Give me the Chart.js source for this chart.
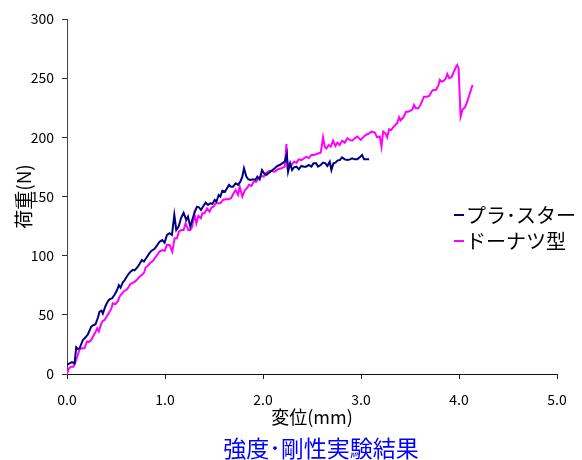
<!DOCTYPE html>
<html>
<head>
<meta charset="utf-8">
<script src="https://cdn.jsdelivr.net/npm/chart.js@4/dist/chart.umd.min.js"></script>
<style>
  html, body { margin: 0; padding: 0; background: #fff; }
  #wrap { width: 582px; height: 460px; }
</style>
</head>
<body>
<div id="wrap"><canvas id="chart" width="582" height="460"></canvas></div>
<script>
// Load-displacement curves (strength / stiffness test)
const seriesNames = ['プラ･スター', 'ドーナツ型'];
const seriesColors = ['#000080', '#ff00ff'];
const xTicks = [0, 1, 2, 3, 4, 5];
const yTicks = [0, 50, 100, 150, 200, 250, 300];

// プラ･スター
const plaX = [0, 0.026, 0.051, 0.077, 0.094, 0.11, 0.128, 0.162, 0.189, 0.213, 0.247, 0.274, 0.291, 0.315, 0.332, 0.352, 0.366, 0.393, 0.417, 0.434,
  0.461, 0.485, 0.509, 0.529, 0.546, 0.57, 0.587, 0.604, 0.628, 0.648, 0.672, 0.689, 0.717, 0.74, 0.764, 0.785, 0.809, 0.836, 0.86, 0.894,
  0.945, 0.972, 0.996, 1.02, 1.047, 1.071, 1.095, 1.115, 1.139, 1.163, 1.19, 1.217, 1.234, 1.258, 1.278, 1.299, 1.326, 1.347, 1.367, 1.387,
  1.415, 1.439, 1.462, 1.483, 1.507, 1.524, 1.548, 1.565, 1.585, 1.612, 1.633, 1.653, 1.674, 1.694, 1.721, 1.745, 1.769, 1.789, 1.806, 1.83,
  1.85, 1.874, 1.898, 1.922, 1.942, 1.966, 1.99, 2.01, 2.034, 2.055, 2.12, 2.147, 2.171, 2.195, 2.222, 2.243, 2.256, 2.277, 2.297, 2.317,
  2.341, 2.365, 2.392, 2.419, 2.439, 2.467, 2.494, 2.515, 2.542, 2.562, 2.589, 2.613, 2.637, 2.657, 2.681, 2.698, 2.718, 2.739, 2.759, 2.783,
  2.807, 2.834, 2.861, 2.889, 2.909, 2.936, 2.963, 2.987, 3.011, 3.032, 3.056, 3.083];
const plaY = [7.6, 9.0, 10.1, 9.0, 22.5, 21.1, 21.7, 28.7, 31.0, 33.5, 40.0, 41.4, 42.0, 47.5, 52.7, 53.5, 51.0, 57.5, 61.5, 63.0,
  64.0, 67.0, 70.5, 75.0, 73.0, 77.5, 79.0, 81.5, 84.5, 86.5, 88.0, 87.5, 90.0, 93.0, 96.3, 95.0, 98.0, 101.5, 104.0, 105.8,
  111.8, 113.2, 111.0, 117.5, 118.9, 117.5, 134.4, 121.7, 124.5, 131.6, 136.3, 130.2, 133.0, 124.5, 130.2, 135.8, 141.4, 140.9, 138.6, 141.4,
  144.8, 142.9, 144.3, 143.7, 147.1, 145.6, 151.3, 149.9, 154.9, 154.0, 157.0, 159.8, 158.3, 158.3, 161.2, 159.8, 162.5, 166.8, 173.8, 166.8,
  164.5, 164.0, 164.5, 164.0, 166.8, 164.5, 172.4, 169.6, 168.2, 169.6, 173.8, 175.8, 176.6, 178.0, 179.4, 186.0, 171.0, 178.0, 172.4, 174.7,
  175.2, 173.0, 175.8, 175.2, 175.2, 176.6, 175.2, 178.0, 178.0, 175.2, 176.6, 178.6, 178.0, 175.8, 179.4, 172.4, 178.0, 178.6, 180.3, 180.8,
  183.1, 181.4, 180.8, 181.4, 182.3, 181.4, 181.4, 183.1, 185.1, 181.4, 181.4, 181.4];

// ドーナツ型
const donutX = [0, 0.019, 0.043, 0.066, 0.087, 0.11, 0.128, 0.148, 0.179, 0.203, 0.223, 0.247, 0.264, 0.291, 0.308, 0.325, 0.349, 0.366, 0.383, 0.4,
  0.427, 0.451, 0.468, 0.495, 0.519, 0.536, 0.557, 0.58, 0.604, 0.625, 0.645, 0.672, 0.7, 0.717, 0.74, 0.768, 0.788, 0.802, 0.826, 0.85,
  0.877, 0.894, 0.911, 0.931, 0.945, 0.972, 0.996, 1.02, 1.047, 1.074, 1.098, 1.122, 1.142, 1.166, 1.19, 1.21, 1.238, 1.258, 1.278, 1.299,
  1.32, 1.34, 1.367, 1.381, 1.404, 1.428, 1.455, 1.476, 1.496, 1.517, 1.541, 1.565, 1.592, 1.619, 1.646, 1.674, 1.7, 1.721, 1.745, 1.762,
  1.789, 1.816, 1.837, 1.857, 1.881, 1.905, 1.932, 1.953, 1.98, 2.007, 2.034, 2.068, 2.12, 2.154, 2.188, 2.222, 2.239, 2.249, 2.269, 2.29,
  2.317, 2.341, 2.365, 2.392, 2.419, 2.443, 2.467, 2.494, 2.521, 2.545, 2.569, 2.589, 2.613, 2.63, 2.647, 2.671, 2.691, 2.715, 2.739, 2.759,
  2.783, 2.807, 2.834, 2.861, 2.885, 2.909, 2.936, 2.963, 2.998, 3.022, 3.046, 3.073, 3.107, 3.141, 3.165, 3.192, 3.209, 3.226, 3.25, 3.267,
  3.287, 3.308, 3.328, 3.349, 3.369, 3.389, 3.403, 3.424, 3.437, 3.458, 3.482, 3.506, 3.526, 3.54, 3.56, 3.584, 3.601, 3.621, 3.642, 3.669,
  3.696, 3.72, 3.737, 3.764, 3.788, 3.805, 3.822, 3.846, 3.866, 3.88, 3.9, 3.924, 3.948, 3.968, 3.982, 3.996, 4.016, 4.037, 4.061, 4.084,
  4.111, 4.138];
const donutY = [0, 4.8, 6.2, 6.2, 10.4, 16.1, 20.8, 21.7, 21.7, 27.5, 27.0, 28.7, 31.5, 35.5, 38.6, 36.0, 42.5, 45.0, 45.5, 48.0,
  51.5, 55.0, 59.7, 59.0, 61.5, 65.3, 67.5, 70.0, 71.0, 73.0, 76.0, 77.0, 78.5, 80.0, 82.2, 84.0, 86.0, 90.0, 91.5, 94.0,
  95.5, 97.8, 99.5, 102.0, 103.5, 104.8, 104.0, 109.0, 109.0, 103.4, 114.7, 114.7, 120.3, 121.7, 121.7, 127.4, 121.7, 121.7, 124.5, 135.5,
  127.4, 133.6, 131.6, 135.8, 135.8, 140.0, 137.2, 140.9, 141.4, 144.3, 144.3, 144.3, 147.1, 147.7, 147.7, 148.5, 152.7, 155.5, 151.3, 158.3,
  149.9, 155.5, 157.0, 159.8, 158.9, 162.5, 162.5, 165.4, 167.4, 166.8, 170.1, 171.8, 171.0, 173.0, 173.8, 175.2, 194.4, 175.2, 178.0, 176.6,
  179.4, 178.6, 181.4, 180.8, 182.3, 183.6, 182.3, 185.1, 185.1, 185.9, 186.5, 187.0, 200.0, 192.1, 190.7, 193.5, 192.1, 197.2, 192.7, 195.5,
  193.5, 197.2, 195.5, 199.2, 197.8, 197.2, 199.2, 200.6, 197.8, 200.0, 202.0, 202.8, 204.8, 204.0, 200.0, 200.6, 192.1, 204.8, 203.4, 200.0,
  206.8, 206.2, 208.5, 210.4, 211.8, 217.0, 214.2, 216.1, 217.5, 221.7, 221.7, 222.5, 223.7, 227.3, 224.5, 224.5, 226.4, 230.1, 234.4, 234.4,
  235.0, 238.6, 240.0, 240.0, 243.4, 248.5, 247.1, 247.9, 249.9, 253.5, 249.9, 250.8, 255.5, 259.2, 261.1, 258.3, 217.5, 223.7, 225.4, 230.1,
  237.2, 244.2];

const FONT = '"Noto Sans CJK JP", "Noto Sans", sans-serif';

function toPoints(xs, ys) {
    return xs.map((x, i) => ({ x: x, y: ys[i] }));
}

// legend drawn inside the plot, at the right side
const sideLegend = {
    id: 'sideLegend',
    afterLayout(chart) {
        // the title sits a little right of the plot centre
        if (chart.titleBlock) {
            chart.titleBlock.left += 9;
            chart.titleBlock.right += 9;
        }
    },
    afterDatasetsDraw(chart) {
        const ctx = chart.ctx;
        ctx.save();
        ctx.font = '20px ' + FONT;
        ctx.textBaseline = 'middle';
        chart.data.datasets.forEach((ds, i) => {
            const y = 215 + i * 26;
            ctx.strokeStyle = ds.borderColor;
            ctx.lineWidth = 2;
            ctx.beginPath();
            ctx.moveTo(454, y);
            ctx.lineTo(464, y);
            ctx.stroke();
            ctx.fillStyle = '#000';
            ctx.fillText(ds.label, 466, y);
        });
        ctx.restore();
    }
};

Chart.defaults.font.family = FONT;
Chart.defaults.color = '#000';

const ctx = document.getElementById('chart').getContext('2d');
new Chart(ctx, {
    type: 'line',
    data: {
        datasets: [
            { label: seriesNames[0], data: toPoints(plaX, plaY), borderColor: seriesColors[0], backgroundColor: seriesColors[0] },
            { label: seriesNames[1], data: toPoints(donutX, donutY), borderColor: seriesColors[1], backgroundColor: seriesColors[1] }
        ]
    },
    options: {
        responsive: false,
        animation: false,
        events: [],
        elements: {
            line: { borderWidth: 2, tension: 0, fill: false },
            point: { radius: 0 }
        },
        layout: { padding: { top: 19, right: 25, bottom: 0, left: 0 } },
        plugins: {
            legend: { display: false },
            tooltip: { enabled: false },
            title: {
                display: true,
                text: '強度･剛性実験結果',
                position: 'bottom',
                fullSize: false,
                color: '#0000ff',
                font: { size: 23, weight: 'normal', lineHeight: 1 },
                padding: { top: 0, bottom: 0 }
            }
        },
        scales: {
            x: {
                type: 'linear',
                min: xTicks[0],
                max: xTicks[xTicks.length - 1],
                afterBuildTicks: s => { s.ticks = xTicks.map(v => ({ value: v })); },
                afterFit: s => { s.height = 63; },
                ticks: {
                    font: { size: 14 },
                    padding: 12,
                    maxRotation: 0,
                    callback: v => Number(v).toFixed(1)
                },
                grid: { drawOnChartArea: false, drawTicks: true, tickLength: 5, tickColor: '#222' },
                border: { display: true, color: '#111', width: 1 },
                title: {
                    display: true,
                    text: '変位(mm)',
                    font: { size: 18 },
                    padding: { top: 0, bottom: 9 }
                }
            },
            y: {
                min: yTicks[0],
                max: yTicks[yTicks.length - 1],
                afterBuildTicks: s => { s.ticks = yTicks.map(v => ({ value: v })); },
                afterFit: s => { s.width = 67; },
                ticks: { font: { size: 14 }, padding: 8 },
                grid: { drawOnChartArea: false, drawTicks: true, tickLength: 5, tickColor: '#333' },
                border: { display: true, color: '#444', width: 1 },
                title: {
                    display: true,
                    text: '荷重(N)',
                    font: { size: 19 },
                    padding: { top: 12, bottom: 0 }
                }
            }
        }
    },
    plugins: [sideLegend]
});
</script>
</body>
</html>
